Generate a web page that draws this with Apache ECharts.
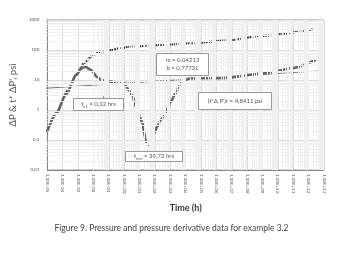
<!DOCTYPE html>
<html>
<head>
<meta charset="utf-8">
<script src="https://cdn.jsdelivr.net/npm/echarts@6/dist/echarts.min.js"></script>
<style>
  html, body { margin: 0; padding: 0; background: #fff; }
  #chart { width: 343px; height: 254px; }
</style>
</head>
<body>
<div id="chart"></div>
<script>
  // pressure drop, hrs / psi
  var pTime = [1e-5, 3.8e-5, 2.0e-4, 7.6e-4, 2.5e-3, 7.1e-3, 1.9e-2, 0.14, 0.62, 2.75, 240, 2.1e4, 8.3e6, 7.2e8, 2.3e12];
  var pValue = [0.2, 0.79, 4.3, 15, 37, 60, 81, 100, 117, 129, 146, 167, 215, 293, 500];

  // pressure derivative t*dP'
  var dTime = [1e-5, 3.8e-5, 1.7e-4, 7.6e-4, 1.6e-3, 2.9e-3, 7.1e-3, 1.7e-2, 3.2e-2, 0.14, 0.46, 0.98, 2.0, 3.5, 5.8, 9.1, 15.8, 20, 25.7, 39.72, 55, 89, 148, 240, 513, 1070, 2240, 4000, 7900, 2.1e4, 1.9e6, 1.5e9, 8.1e10, 2.6e12];
  var dValue = [0.2, 0.79, 3.4, 14.7, 24, 27.5, 21.5, 12.6, 10, 8.8, 8.1, 7.9, 4.6, 2.8, 1.3, 0.68, 0.36, 0.17, 0.088, 0.065, 0.078, 0.17, 0.29, 0.47, 0.85, 1.9, 3.6, 7, 9.8, 11.5, 11.4, 16.7, 24.5, 46];

  // fitted straight line (m = 0,04213  b = 0,77731)
  var fitTime = [2.2e-8, 4.2e12];
  var fitValue = [4.4, 20];

  // radial flow level (t*dP')r
  var radTime = [1e-5, 6.9e11];
  var radValue = [4.8411, 4.8411];

  // leader line of the te1 label
  var leadTime = [0.089, 0.043];
  var leadValue = [6.8, 2.5];

  var xLabels = ['1,00E-05', '1,00E-04', '1,00E-03', '1,00E-02', '1,00E-01', '1,00E+00', '1,00E+01', '1,00E+02', '1,00E+03',
    '1,00E+04', '1,00E+05', '1,00E+06', '1,00E+07', '1,00E+08', '1,00E+09', '1,00E+10', '1,00E+11', '1,00E+12', '1,00E+13'];
  var yLabels = ['0,01', '0,1', '1', '10', '100', '1000'];

  function pairs (xs, ys) {
    return xs.map(function (x, i) { return [x, ys[i]]; });
  }

  // minor log grid lines 2..9 in each decade
  function minorLines (lo, hi, axis) {
    var out = [];
    for (var e = lo; e < hi; e++) {
      for (var k = 2; k < 10; k++) {
        var o = {};
        o[axis] = k * Math.pow(10, e);
        out.push(o);
      }
    }
    return out;
  }

  var font = 'Lato, "DejaVu Sans", sans-serif';
  var myChart = echarts.init(document.getElementById('chart'), null, {renderer: 'canvas'});

  function box (x, y, w, h, text, rich) {
    return {
      type: 'group',
      left: x,
      top: y,
      z: 100,
      children: [
        {type: 'rect', z: 100, shape: {x: 0, y: 0, width: w, height: h}, style: {fill: '#fff', stroke: '#999', lineWidth: 1}},
        {type: 'text', z: 101, x: w / 2, y: h / 2, style: {text: text, rich: rich || {}, fill: '#555', font: '6px ' + font, align: 'center', verticalAlign: 'middle', lineHeight: 8}}
      ]
    };
  }

  var subRich = {
    s: {fontSize: 4, fill: '#555', verticalAlign: 'bottom', padding: [3, 0, 0, 0]}
  };

  myChart.setOption({
    animation: false,
    title: {
      text: 'Figure 9. Pressure and pressure derivative data for example 3.2',
      left: 'center',
      top: 219,
      textStyle: {fontSize: 8.5, fontWeight: 'normal', color: '#444', fontFamily: font}
    },
    grid: {left: 46, right: 19, top: 20, bottom: 84, show: true, borderColor: '#999', borderWidth: 1},
    xAxis: {
      type: 'log',
      min: 1e-5,
      max: 1e13,
      interval: 1,
      name: 'Time (h)',
      nameLocation: 'middle',
      nameGap: 34,
      nameTextStyle: {fontSize: 9, fontWeight: 'bold', color: '#333', fontFamily: font},
      axisLine: {lineStyle: {color: '#888'}},
      axisTick: {show: false},
      splitLine: {show: true, lineStyle: {color: '#dadada'}},
      axisLabel: {
        interval: 0,
        rotate: -90,
        fontSize: 4.5,
        color: '#555',
        margin: 4,
        fontFamily: font,
        formatter: function (v) {
          return xLabels[Math.round(Math.log10(v)) + 5];
        }
      }
    },
    yAxis: {
      type: 'log',
      min: 0.01,
      max: 1000,
      interval: 1,
      name: 'ΔP & t* ΔP\', psi',
      nameLocation: 'middle',
      nameGap: 24,
      nameRotate: 90,
      nameTextStyle: {fontSize: 9.5, color: '#555', fontFamily: font},
      axisLine: {show: true, lineStyle: {color: '#888'}},
      axisTick: {show: false},
      splitLine: {show: true, lineStyle: {color: '#dadada'}},
      axisLabel: {
        fontSize: 4.5,
        color: '#555',
        margin: 8,
        fontFamily: font,
        formatter: function (v) {
          return yLabels[Math.round(Math.log10(v)) + 2];
        }
      }
    },
    series: [
      {
        name: 'grid',
        type: 'line',
        data: [],
        silent: true,
        z: 0,
        markLine: {
          silent: true,
          symbol: 'none',
          label: {show: false},
          lineStyle: {color: '#f0f0f0', width: 1, type: 'solid'},
          data: minorLines(-5, 13, 'xAxis').concat(minorLines(-2, 3, 'yAxis'))
        }
      },
      {
        name: 'radial',
        type: 'line',
        data: pairs(radTime, radValue),
        symbol: 'none',
        lineStyle: {color: '#bdbdbd', width: 1}
      },
      {
        name: 'fit',
        type: 'line',
        data: pairs(fitTime, fitValue),
        symbol: 'none',
        clip: false,
        lineStyle: {color: '#555', width: 0.8}
      },
      {
        name: 'leader',
        type: 'line',
        data: pairs(leadTime, leadValue),
        symbol: 'none',
        lineStyle: {color: '#666', width: 0.8}
      },
      {
        name: 'ΔP',
        type: 'line',
        data: pairs(pTime, pValue),
        smooth: 0.25,
        smoothMonotone: 'x',
        symbol: 'none',
        lineStyle: {color: '#2e2e2e', width: 2, type: [1.6, 0.7]}
      },
      {
        name: "t*ΔP'",
        type: 'line',
        data: pairs(dTime, dValue),
        smooth: 0.25,
        smoothMonotone: 'x',
        symbol: 'none',
        lineStyle: {color: '#666', width: 2.6, type: [2.4, 1.2], cap: 'round'}
      }
    ],
    graphic: [
      box(156, 53, 52, 22, 'm = 0,04213\nb = 0,77731'),
      box(73, 98, 50, 12, 't{s|e1} = 0,12 hrs', subRich),
      box(125, 151, 57, 10, 't{s|min} = 39,72 hrs', subRich),
      box(198, 92, 73, 17, '(t*Δ P\')r = 4,8411 psi')
    ]
  });
</script>
</body>
</html>
